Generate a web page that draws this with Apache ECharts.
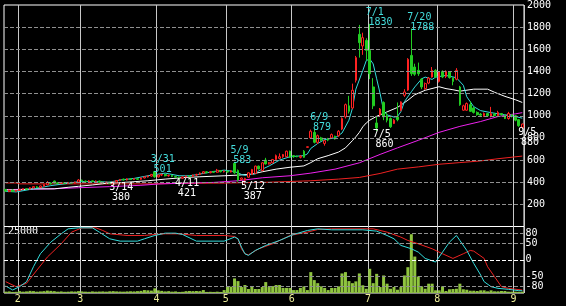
<!DOCTYPE html>
<html><head><meta charset="utf-8">
<script src="https://cdn.jsdelivr.net/npm/echarts@6/dist/echarts.min.js"></script>
<style>html,body{margin:0;padding:0;background:#000}#c{width:566px;height:306px}</style>
</head><body><div id="c"></div>
<script>
// trading days per month
const monthDays = [
  [1, [26,27,28,29]],
  [2, [1,2,3,4,5,8,9,10,12,15,16,17,18,19,22,23,24,25]],
  [3, [1,2,3,4,7,8,9,10,11,14,15,16,17,18,22,23,24,25,28,29,30,31]],
  [4, [1,4,5,6,7,8,11,12,13,14,15,18,19,20,21,22,25,26,27,28]],
  [5, [2,6,9,10,11,12,13,16,17,18,19,20,23,24,25,26,27,30,31]],
  [6, [1,2,3,6,7,8,9,10,13,14,15,16,17,20,21,22,23,24,27,28,29,30]],
  [7, [1,4,5,6,7,8,11,12,13,14,15,19,20,21,22,25,26,27,28,29]],
  [8, [1,2,3,4,5,8,9,10,12,15,16,17,18,19,22,23,24,25,26,29,30,31]],
  [9, [1,2,5]]
];
// [open, close, low, high]
const candles = [
[335,320,312,338],[315,328,310,332],[330,318,312,334],[318,326,314,330],[325,335,322,340],
[333,342,330,345],[340,336,332,345],[338,350,335,354],[348,360,345,362],[358,352,348,364],
[352,366,350,370],[364,378,360,382],[376,395,372,410],[392,385,380,398],[410,392,388,414],
[395,388,384,400],[388,396,384,400],[396,390,386,400],[390,398,387,402],[398,392,388,403],
[392,400,388,405],[400,420,396,428],[418,410,405,424],[410,405,400,415],[405,412,400,418],
[412,406,400,415],[406,410,402,416],[410,400,396,414],[400,395,390,405],[396,400,388,405],
[400,390,385,404],[390,402,380,405],[402,415,398,420],[415,425,410,428],[428,420,415,432],
[420,430,416,435],[430,424,420,436],[424,432,420,438],[432,426,422,438],[426,438,422,442],
[438,448,434,452],[448,456,442,462],[455,470,450,475],[495,448,440,501],[448,465,442,470],
[465,470,455,478],[470,458,452,474],[458,462,450,468],[462,452,446,466],[452,446,440,456],
[445,435,421,450],[436,448,430,452],[448,455,444,460],[455,452,446,462],[452,464,448,468],
[464,470,458,476],[470,482,465,488],[482,495,476,500],[494,486,480,498],[486,494,480,500],
[494,490,484,502],[490,508,486,520],[505,495,488,510],[495,500,488,506],[500,492,486,505],
[492,502,488,508],[570,485,475,583],[505,420,405,515],[425,438,415,442],[420,435,387,440],
[445,485,440,490],[470,515,465,520],[480,545,475,550],[545,520,515,550],[505,575,500,580],
[600,565,560,620],[565,575,560,582],[575,605,570,610],[605,640,600,650],[615,630,610,660],
[630,650,620,655],[630,680,625,685],[680,625,620,685],[640,630,620,645],[635,630,625,640],
[625,635,615,645],[680,625,620,690],[715,720,712,722],[800,860,790,875],[850,760,750,879],
[760,820,745,830],[800,780,770,810],[750,775,730,780],[795,780,770,800],[800,830,795,840],
[815,790,785,820],[820,860,810,870],[880,975,870,985],[990,1100,975,1110],[1090,1040,1020,1180],
[1070,1230,1060,1290],[1320,1525,1300,1540],[1735,1660,1525,1820],[1630,1705,1550,1750],[1680,1590,1500,1700],
[1590,1380,1330,1830],[1260,1090,1060,1340],[935,890,860,990],[1010,1060,990,1070],[1120,990,960,1130],
[1000,960,940,1030],[975,900,890,985],[930,960,925,970],[990,965,950,1120],[1050,1125,1040,1130],
[1185,1215,1170,1240],[1232,1510,1225,1520],[1545,1380,1360,1788],[1440,1375,1360,1470],[1410,1380,1360,1480],
[1330,1260,1240,1340],[1245,1290,1235,1300],[1295,1340,1285,1350],[1350,1410,1345,1440],[1410,1350,1340,1420],
[1310,1395,1300,1400],[1400,1350,1340,1410],[1355,1400,1340,1410],[1395,1345,1335,1400],[1340,1310,1275,1345],
[1330,1410,1320,1430],[1260,1100,1090,1270],[1050,1090,1045,1100],[1050,1110,1045,1120],[1100,1040,1035,1130],
[1070,1030,1020,1080],[1030,1010,1000,1040],[1015,1005,995,1025],[1000,1020,990,1030],[1020,1000,990,1025],
[995,1020,985,1080],[1015,1000,995,1025],[1000,1030,995,1045],[1020,1010,1000,1025],[1005,975,970,1010],
[975,1020,965,1035],[1010,995,985,1015],[1000,960,950,1005],[965,910,900,970],[895,925,880,930]
];
const volume = [
500,600,400,450,700,500,600,800,700,500,600,700,900,800,700,500,600,450,500,600,
550,700,600,500,450,600,500,550,600,500,650,700,600,550,500,600,650,600,700,800,
1100,1000,900,1750,1000,800,600,700,500,600,400,450,700,750,700,750,700,1100,400,450,
400,500,400,1100,2300,2400,5480,4470,2240,3000,1500,2600,1500,1500,2240,4100,2240,2600,3000,3000,
1900,1900,1900,1100,1100,1900,2500,1100,7850,4850,3700,2500,1900,1100,1900,1900,2500,7350,7850,4480,
3700,4370,7350,2900,1600,9100,3700,7200,2240,6600,3500,1600,2240,1230,2240,6600,9700,22100,13700,6200,
2500,1600,3500,3500,1000,1000,2500,750,1400,1500,1600,3500,1400,1230,860,860,750,1000,1000,630,
1000,630,630,750,750,500,500,500,450,500
];
// moving averages, [dayIndex, price]
const maShort = [[0,318],[3,312],[8,340],[13,369],[18,390],[21,405],[27,405],[30,400],[33,420],[37,434],[41,458],[44,473],[46,482],[50,458],[53,458],[56,473],[60,497],[63,509],[66,497],[68,470],[69,462],[72,475],[73,503],[76,547],[79,600],[82,630],[86,640],[87,655],[88,705],[90,750],[92,785],[93,790],[95,800],[97,844],[99,960],[100,1067],[101,1240],[103,1409],[104,1498],[105,1513],[106,1468],[107,1334],[108,1200],[109,1045],[110,1008],[112,988],[113,993],[114,1037],[115,1127],[117,1216],[118,1260],[120,1334],[121,1349],[123,1328],[124,1349],[127,1364],[130,1343],[132,1275],[133,1171],[135,1082],[137,1046],[140,1028],[144,1008],[147,993],[149,978]];
const maMid = [[0,330],[4,330],[8,340],[14,340],[18,354],[21,363],[25,375],[29,390],[34,398],[41,413],[46,428],[52,443],[56,449],[63,458],[67,464],[71,473],[74,494],[78,518],[82,535],[86,547],[88,577],[90,612],[93,640],[96,672],[98,710],[100,775],[101,810],[102,850],[103,900],[104,935],[105,960],[107,995],[110,1035],[113,1075],[116,1140],[118,1190],[121,1230],[125,1262],[127,1245],[129,1235],[131,1222],[135,1240],[139,1240],[141,1212],[144,1175],[147,1145],[149,1120]];
const maLong = [[0,333],[13,340],[21,350],[30,360],[39,372],[44,384],[50,390],[60,398],[67,413],[74,440],[82,458],[88,482],[95,518],[102,575],[108,651],[113,710],[119,778],[125,850],[131,904],[137,948],[142,993],[147,1017],[149,1028]];
const maLonger = [[0,393],[3,393],[4,385],[43,385],[50,390],[63,392],[76,400],[88,413],[96,428],[102,443],[108,479],[113,518],[119,538],[125,562],[131,577],[137,592],[142,612],[149,636]];
// oscillator lines, [dayIndex, value]
const oscFast = [[0,-79],[2,-91],[4,-81],[6,-66],[8,-21],[10,18],[13,53],[16,78],[18,93],[21,96],[25,96],[27,83],[30,63],[33,56],[38,56],[40,63],[43,73],[46,80],[49,80],[51,76],[55,56],[63,56],[66,68],[67,63],[68,38],[69,18],[70,13],[72,28],[75,43],[79,58],[83,76],[87,88],[90,93],[94,90],[103,90],[107,86],[110,73],[112,63],[114,43],[117,33],[119,23],[121,4],[124,-7],[126,23],[128,53],[130,73],[131,58],[133,28],[135,-11],[137,-46],[138,-66],[140,-81],[142,-86],[145,-89],[148,-93],[149,-93]];
const oscSlow = [[0,-66],[3,-81],[6,-71],[9,-31],[12,8],[16,48],[19,83],[22,96],[26,96],[28,88],[30,78],[35,73],[40,73],[43,76],[46,78],[50,78],[55,73],[63,73],[66,70],[67,63],[68,33],[69,18],[70,15],[73,33],[77,48],[82,73],[87,83],[90,91],[94,93],[106,93],[110,83],[114,68],[116,58],[119,48],[123,33],[126,18],[129,4],[132,18],[134,28],[135,26],[138,4],[139,-21],[141,-51],[143,-81],[145,-86],[149,-91]];
// annotations
const annDates = ['3/14','3/31','4/11','5/9','5/12','6/9','7/1','7/5','7/20','9/5'];
const annPrices = [380,501,421,583,387,879,1830,860,1788,880];
const annKinds = ['low','high','low','high','low','high','high','low','high','low'];
const priceGrid = [200,400,600,800,1000,1200,1400,1600,1800];
const oscGrid = [80,50,-50,-80];
const oscLabels = [80,50,0,-50,-80];
const volTopLabel = 25000;

const categories = [];
const monthStart = new Set();
monthDays.forEach(([m, ds]) => {
  ds.forEach((d, k) => { if (k === 0 && categories.length > 0) monthStart.add(categories.length); categories.push(m + '/' + d); });
});
const FONT = 'DejaVu Sans Mono';
const isStart = (i) => monthStart.has(i);

const annData = annDates.map((d, k) => {
  const high = annKinds[k] === 'high';
  const col = high ? '#44dddd' : '#ffffff';
  return {
    coord: [d, annPrices[k]],
    label: {
      show: true,
      position: high ? [-3.5, 4] : [-3.5, -1.4],
      align: 'left',
      verticalAlign: high ? 'bottom' : 'top',
      formatter: '{d|' + d + '}\n{p|' + annPrices[k] + '}',
      rich: {
        d: {color: col, fontFamily: FONT, fontSize: 10, lineHeight: 10},
        p: {color: col, fontFamily: FONT, fontSize: 10, lineHeight: 10, padding: [0, 0, 0, 2.8]}
      }
    }
  };
});

const chart = echarts.init(document.getElementById('c'));
chart.setOption({
  backgroundColor: '#000',
  animation: false,
  grid: [
    {left: 4, top: 2, width: 520, height: 224.5, show: true, borderColor: '#ffffff', borderWidth: 1, backgroundColor: 'transparent'},
    {left: 4, top: 226.5, width: 520, height: 66.5, show: true, borderColor: '#ffffff', borderWidth: 1, backgroundColor: 'transparent'}
  ],
  xAxis: [
    {type: 'category', gridIndex: 0, data: categories, boundaryGap: true,
      axisLine: {show: false}, axisTick: {show: false}, axisLabel: {show: false},
      splitLine: {show: true, interval: isStart, lineStyle: {color: '#c8c8c8', width: 1}}},
    {type: 'category', gridIndex: 1, data: categories, boundaryGap: true,
      axisLine: {show: false}, axisTick: {show: false},
      axisLabel: {show: true, interval: isStart, formatter: (v) => v.split('/')[0],
        color: '#eeee99', fontFamily: FONT, fontSize: 10, margin: 1, padding: [0, 3.5, 0, 0]},
      splitLine: {show: true, interval: isStart, lineStyle: {color: '#c8c8c8', width: 1}}}
  ],
  yAxis: [
    {type: 'value', gridIndex: 0, min: 0, max: 2000, interval: 200, position: 'right',
      axisLine: {show: false}, axisTick: {show: false}, splitLine: {show: false},
      axisLabel: {color: '#ffffff', fontFamily: FONT, fontSize: 10, margin: 3, align: 'left',
        padding: [4, 0, 0, 0], formatter: (v) => v === 0 ? '' : String(v)}},
    {type: 'value', gridIndex: 1, min: -100, max: 100, interval: 10, position: 'right',
      axisLine: {show: false}, axisTick: {show: false}, splitLine: {show: false},
      axisLabel: {color: '#ffffff', fontFamily: FONT, fontSize: 10, margin: 1.5, align: 'left',
        formatter: (v) => oscLabels.indexOf(v) >= 0 ? String(v) : ''}},
    {type: 'value', gridIndex: 1, min: 0, max: volTopLabel, interval: volTopLabel, position: 'left',
      axisLine: {show: false}, axisTick: {show: false}, splitLine: {show: false},
      axisLabel: {inside: true, color: '#ffffff', fontFamily: FONT, fontSize: 10, margin: 4, verticalAlign: 'top',
        formatter: (v) => v === volTopLabel ? String(v) : ''}}
  ],
  series: [
    {type: 'bar', xAxisIndex: 1, yAxisIndex: 2, data: volume, barWidth: 3, itemStyle: {color: '#8fc43f'}, z: 1, silent: true},
    {type: 'line', xAxisIndex: 1, yAxisIndex: 1, data: oscSlow, symbol: 'none', lineStyle: {color: '#ee2222', width: 1}, z: 3, silent: true,
      markLine: {silent: true, symbol: ['none', 'none'], label: {show: false},
        data: oscGrid.map(v => ({yAxis: v, lineStyle: {color: '#909090', type: [4, 2], width: 1}})).concat([{yAxis: 0, lineStyle: {color: '#ffffff', type: [4, 2], width: 1}}])}},
    {type: 'line', xAxisIndex: 1, yAxisIndex: 1, data: oscFast, symbol: 'none', lineStyle: {color: '#33dddd', width: 1}, z: 3, silent: true},
    {type: 'line', xAxisIndex: 0, yAxisIndex: 0, data: maLonger, symbol: 'none', lineStyle: {color: '#ee2222', width: 1}, z: 3, silent: true,
      markLine: {silent: true, symbol: ['none', 'none'], label: {show: false},
        lineStyle: {color: '#909090', type: [4, 2], width: 1}, data: priceGrid.map(v => ({yAxis: v}))}},
    {type: 'line', xAxisIndex: 0, yAxisIndex: 0, data: maLong, symbol: 'none', lineStyle: {color: '#ee22ee', width: 1}, z: 3, silent: true},
    {type: 'line', xAxisIndex: 0, yAxisIndex: 0, data: maMid, symbol: 'none', lineStyle: {color: '#ffffff', width: 1}, z: 3, silent: true},
    {type: 'line', xAxisIndex: 0, yAxisIndex: 0, data: maShort, symbol: 'none', lineStyle: {color: '#33dddd', width: 1}, z: 3, silent: true},
    {type: 'candlestick', xAxisIndex: 0, yAxisIndex: 0, data: candles, barWidth: 2.2, z: 4, silent: true,
      itemStyle: {color: '#000000', color0: '#22cc22', borderColor: '#ff2222', borderColor0: '#22cc22', borderWidth: 1},
      markPoint: {symbol: 'circle', symbolSize: 1, itemStyle: {color: 'rgba(0,0,0,0)'}, silent: true, data: annData}}
  ]
});
</script></body></html>
